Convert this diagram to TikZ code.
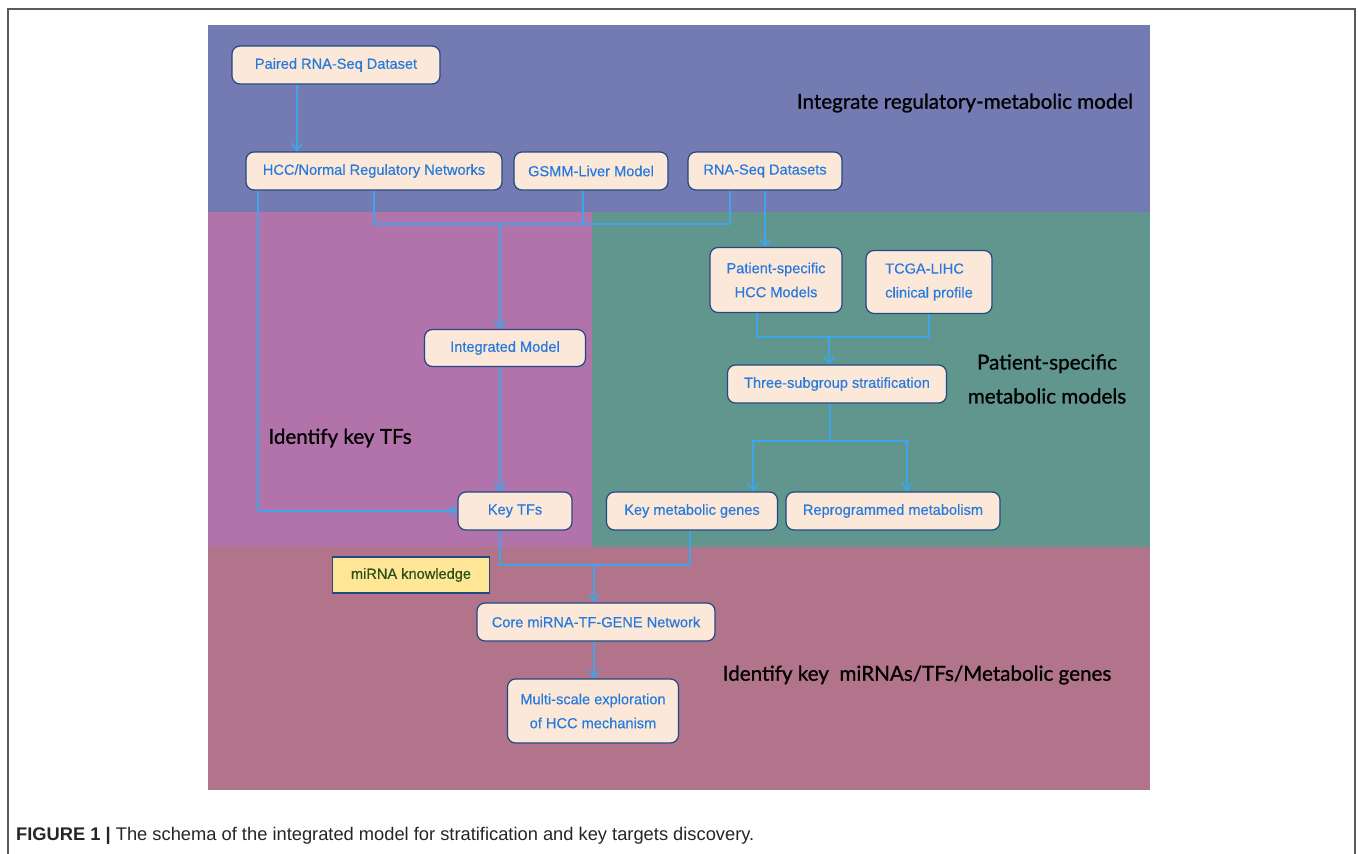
\documentclass[tikz,border=0pt]{standalone}
\usepackage{fontspec}
\setmainfont{Liberation Sans}
\newfontfamily\boxfont[FakeBold=0.4]{Liberation Sans}
\newfontfamily\regionfont[FakeBold=1]{Lato}
\usetikzlibrary{arrows.meta,positioning}
\definecolor{regblue}{RGB}{115,123,178}
\definecolor{tfpurple}{RGB}{178,114,170}
\definecolor{metteal}{RGB}{96,150,142}
\definecolor{keymauve}{RGB}{178,116,138}
\definecolor{boxfill}{RGB}{252,232,216}
\definecolor{boxdraw}{RGB}{32,72,132}
\definecolor{boxtext}{RGB}{38,122,222}
\definecolor{flowblue}{RGB}{62,165,235}
\definecolor{knowyellow}{RGB}{254,230,150}
\definecolor{knowtext}{RGB}{40,80,20}
\definecolor{framegray}{RGB}{90,90,90}
\tikzset{
    % Flow chart boxes
    flowbox/.style={
        rectangle, rounded corners=8pt, draw=boxdraw, fill=boxfill,
        line width=1.2pt, text=boxtext, inner sep=0pt, align=center,
        font=\boxfont\fontsize{14.6}{24}\selectfont
    },
    tallbox/.style={flowbox, minimum height=65pt},
    knowbox/.style={
        rectangle, draw=boxdraw, fill=knowyellow, line width=1.2pt,
        text=knowtext, inner sep=0pt, font=\boxfont\fontsize{14.6}{16}\selectfont
    },
    % Region titles
    regionlabel/.style={
        text=black, align=center, inner sep=0pt,
        font=\regionfont\fontsize{20.6}{34}\selectfont
    },
    % Connectors
    flow/.style={line width=1.5pt, flowblue},
    flowarrow/.style={flow, -{Straight Barb[length=7pt,width=11pt]}},
}
\begin{document}
\begin{tikzpicture}[x=1pt,y=-1pt]
  \useasboundingbox (0,0) rectangle (1358,854);
  \fill[white] (0,0) rectangle (1358,854);
  \draw[framegray, line width=1.3pt] (8,854) -- (8,9) -- (1355,9) -- (1355,854);
  % coloured regions
  \fill[regblue]   (208,25)  rectangle (1150,212);
  \fill[tfpurple]  (208,212) rectangle (592,547);
  \fill[metteal]   (592,212) rectangle (1150,547);
  \fill[keymauve]  (208,547) rectangle (1150,790);
  % region titles
  \node[regionlabel] (titleint) at (965,103) {Integrate regulatory-metabolic model};
  \node[regionlabel] (titletf)  at (340,438) {Identify key TFs};
  \node[regionlabel] (titlepat) at (1047,379) {Patient-specific\\metabolic models};
  \node[regionlabel] (titlekey) at (917,675) {Identify key\ \ miRNAs/TFs/Metabolic genes};
  % boxes
  \node[flowbox, minimum width=208pt, minimum height=38pt] (paired) at (336,65) {Paired RNA-Seq Dataset};
  \node[flowbox, minimum width=256pt, minimum height=38pt] (hccnet) at (374,171) {HCC/Normal Regulatory Networks};
  \node[flowbox, minimum width=154pt, minimum height=38pt] (gsmm) at (591,171) {GSMM-Liver Model};
  \node[flowbox, minimum width=154pt, minimum height=38pt] (rnaseq) at (765,171) {RNA-Seq Datasets};
  \node[tallbox, minimum width=132pt] (patient) at (776,280) {Patient-specific\\HCC Models};
  \node[tallbox, minimum width=126pt, minimum height=63pt, align=left] (tcga) at (929,282) {TCGA-LIHC\\clinical profile};
  \node[flowbox, minimum width=219pt, minimum height=38pt] (three) at (837,384) {Three-subgroup stratification};
  \node[flowbox, minimum width=161pt, minimum height=37pt] (intmodel) at (505,348) {Integrated Model};
  \node[flowbox, minimum width=114pt, minimum height=38pt] (keytfs) at (515,511) {Key TFs};
  \node[flowbox, minimum width=171pt, minimum height=38pt] (keymet) at (692,511) {Key metabolic genes};
  \node[flowbox, minimum width=214pt, minimum height=38pt] (reprog) at (893,511) {Reprogrammed metabolism};
  \node[knowbox, minimum width=157pt, minimum height=36pt] (mirna) at (411,575) {miRNA knowledge};
  \node[flowbox, minimum width=238pt, minimum height=38pt] (core) at (596,622) {Core miRNA-TF-GENE Network};
  \node[tallbox, minimum width=171pt, minimum height=64pt] (multi) at (593,711) {Multi-scale exploration\\of HCC mechanism};
  % junction points
  \coordinate (mergeint) at (500,224);
  \coordinate (mergepat) at (829,337);
  \coordinate (splitmet) at (830,441);
  \coordinate (mergecore) at (594,565);
  % top row
  \draw[flowarrow] ([xshift=-39pt]paired.south) -- ([xshift=-39pt]paired.south |- hccnet.north);
  \draw[flow] ([xshift=12.5pt]hccnet.south west) -- ([xshift=12.5pt]hccnet.south west |- keytfs.west);
  \draw[flowarrow] ([xshift=12.5pt]hccnet.south west |- keytfs.west) -- (keytfs.west);
  \draw[flow] (hccnet.south) |- ([xshift=-35pt]rnaseq.south |- mergeint) -- ([xshift=-35pt]rnaseq.south);
  \draw[flow] ([xshift=-8pt]gsmm.south) -- ([xshift=-8pt]gsmm.south |- mergeint);
  \draw[flowarrow] (mergeint) -- (mergeint |- intmodel.north);
  \draw[flowarrow] (rnaseq.south) -- (rnaseq.south |- patient.north);
  % patient-specific models
  \draw[flow] ([xshift=-19pt]patient.south) |- (tcga.south |- mergepat) -- (tcga.south);
  \draw[flowarrow] (mergepat) -- (mergepat |- three.north);
  \draw[flow] (splitmet |- three.south) -- (splitmet);
  \draw[flowarrow] (splitmet) -| ([xshift=61pt]keymet.north);
  \draw[flowarrow] (splitmet) -| ([xshift=14pt]reprog.north);
  % key TFs
  \draw[flowarrow] (mergeint |- intmodel.south) -- (mergeint |- keytfs.north);
  % core network
  \draw[flow] (mergeint |- keytfs.south) |- ([xshift=-2pt]keymet.south |- mergecore) -- ([xshift=-2pt]keymet.south);
  \draw[flowarrow] (mergecore) -- (mergecore |- core.north);
  \draw[flowarrow] (mergecore |- core.south) -- (mergecore |- multi.north);
  % caption
  \node[anchor=west, inner sep=0pt, font=\fontsize{18.3}{20}\selectfont, text=black!85] (caption) at (16,836)
    {\textbf{FIGURE 1 |} The schema of the integrated model for stratification and key targets discovery.};
\end{tikzpicture}
\end{document}
